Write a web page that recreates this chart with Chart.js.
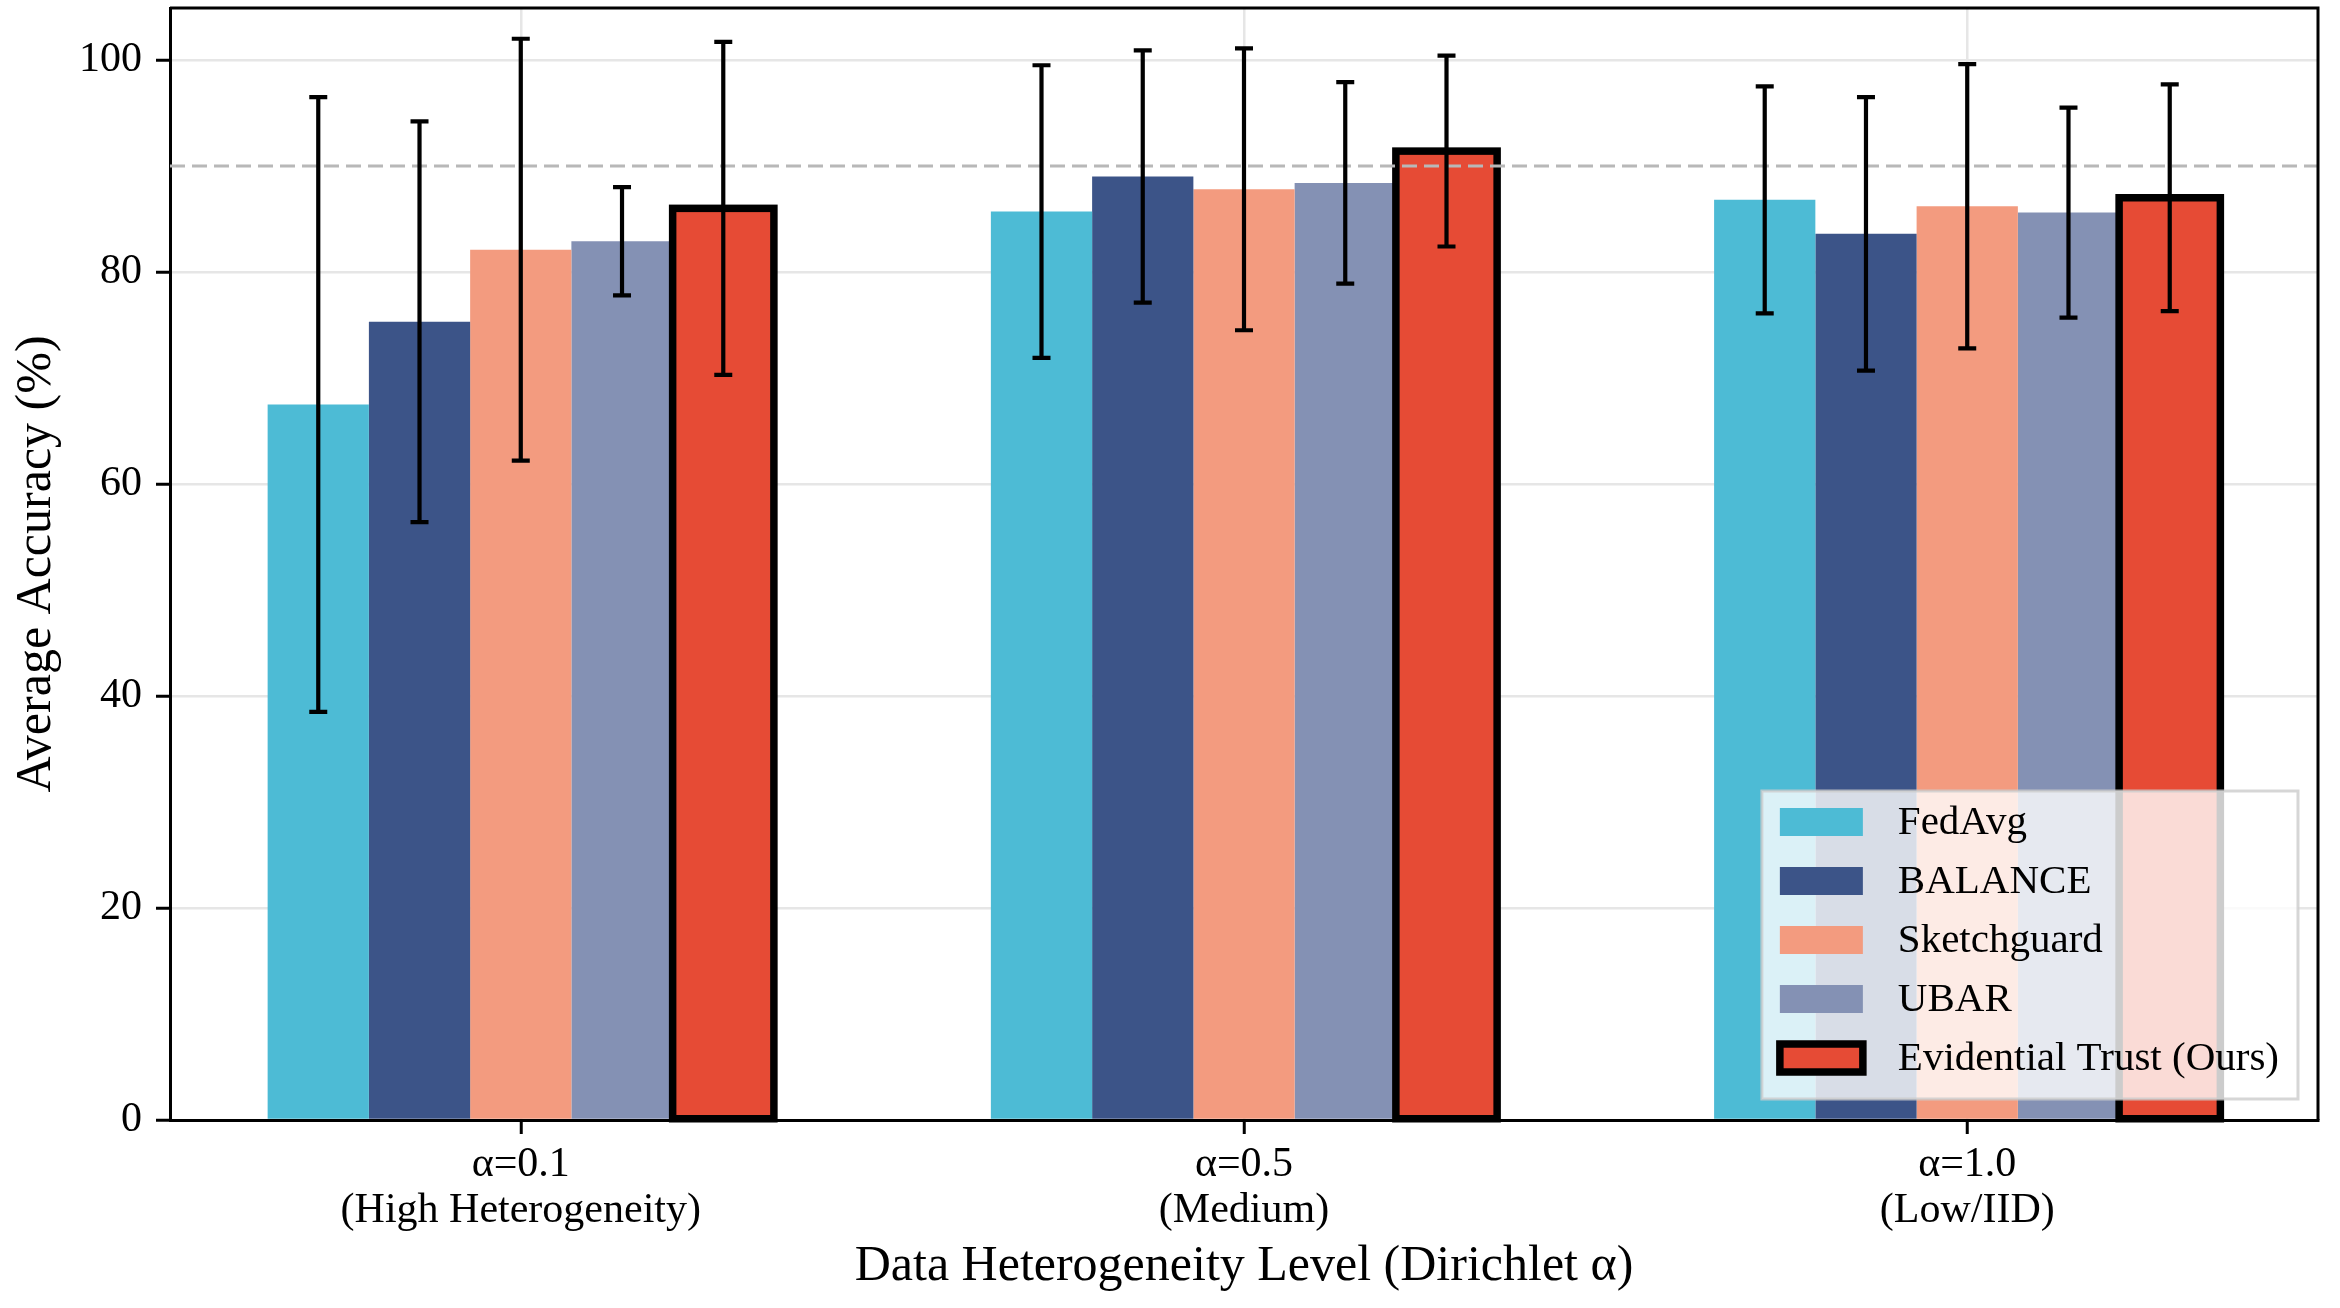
<!DOCTYPE html>
<html>
<head>
<meta charset="utf-8">
<script src="https://cdn.jsdelivr.net/npm/chart.js@4.4.1/dist/chart.umd.min.js"></script>
<style>
    html, body { margin: 0; padding: 0; background: #fff; }
    #wrap { width: 2340px; height: 1308px; }
</style>
</head>
<body>
<div id="wrap"><canvas id="graficaBarras" width="2340" height="1308"></canvas></div>
<script>
// Categorías del eje x (dos líneas por etiqueta)
const categorias = [
    ['α=0.1', '(High Heterogeneity)'],
    ['α=0.5', '(Medium)'],
    ['α=1.0', '(Low/IID)']
];
const metodos = ['FedAvg', 'BALANCE', 'Sketchguard', 'UBAR', 'Evidential Trust (Ours)'];
const colores = ['#4DBBD5', '#3C5488', '#F39B7F', '#8491B4', '#E64B35'];

// Precisión media (%) y desviación por método
const fedavg      = [67.5, 85.7, 86.8];
const balance     = [75.3, 89.0, 83.6];
const sketchguard = [82.1, 87.8, 86.2];
const ubar        = [82.9, 88.4, 85.6];
const evidential  = [86.0, 91.4, 87.0];

const errFedavg      = [29.0, 13.8, 10.7];
const errBalance     = [18.9, 11.9, 12.9];
const errSketchguard = [19.9, 13.3, 13.4];
const errUbar        = [5.1, 9.5, 9.9];
const errEvidential  = [15.7, 9.0, 10.7];

const yTicks = [0, 20, 40, 60, 80, 100];
const lineaReferencia = 90;

const valores = [fedavg, balance, sketchguard, ubar, evidential];
const errores = [errFedavg, errBalance, errSketchguard, errUbar, errEvidential];
const destacado = 4; // índice del método propio (borde negro)

const fuente = "'Liberation Serif', 'Times New Roman', serif";
Chart.defaults.font.family = fuente;
Chart.defaults.color = '#000';

document.addEventListener('DOMContentLoaded', function () {
    const ctx = document.getElementById('graficaBarras').getContext('2d');

    const datasets = metodos.map((nombre, k) => ({
        label: nombre,
        data: valores[k].map((v, i) => ({ x: i, y: v })),
        backgroundColor: colores[k],
        borderWidth: 0,
        categoryPercentage: 0.70,
        barPercentage: 1.0
    }));

    // Borde centrado, línea discontinua, barras de error, marco y leyenda
    const extras = {
        id: 'extras',
        afterDatasetsDraw(chart) {
            const c = chart.ctx;
            const area = chart.chartArea;
            const y = chart.scales.y;

            // borde negro del método propio (centrado sobre el contorno)
            c.save();
            c.strokeStyle = '#000';
            c.lineWidth = 7.5;
            c.lineJoin = 'miter';
            chart.getDatasetMeta(destacado).data.forEach(barra => {
                const p = barra.getProps(['x', 'y', 'base', 'width'], true);
                c.strokeRect(p.x - p.width / 2, p.y, p.width, p.base - p.y);
            });
            c.restore();

            // línea de referencia en 90
            c.save();
            c.setLineDash([15, 7]);
            c.strokeStyle = '#b8b8b8';
            c.lineWidth = 3;
            c.beginPath();
            c.moveTo(area.left, y.getPixelForValue(lineaReferencia));
            c.lineTo(area.right, y.getPixelForValue(lineaReferencia));
            c.stroke();
            c.restore();

            // barras de error
            c.save();
            c.strokeStyle = '#000';
            c.lineWidth = 4.2;
            errores.forEach((errs, k) => {
                const meta = chart.getDatasetMeta(k);
                meta.data.forEach((barra, i) => {
                    const arriba = y.getPixelForValue(valores[k][i] + errs[i]);
                    const abajo = y.getPixelForValue(valores[k][i] - errs[i]);
                    c.beginPath();
                    c.moveTo(barra.x, arriba);
                    c.lineTo(barra.x, abajo);
                    c.moveTo(barra.x - 9, arriba);
                    c.lineTo(barra.x + 9, arriba);
                    c.moveTo(barra.x - 9, abajo);
                    c.lineTo(barra.x + 9, abajo);
                    c.stroke();
                });
            });
            c.restore();
        },
        afterDraw(chart) {
            const c = chart.ctx;
            const area = chart.chartArea;

            // marco superior y derecho
            c.save();
            c.strokeStyle = '#000';
            c.lineWidth = 3;
            c.beginPath();
            c.moveTo(area.left, area.top);
            c.lineTo(area.right, area.top);
            c.lineTo(area.right, area.bottom);
            c.stroke();
            c.restore();

            // leyenda abajo a la derecha
            c.save();
            c.font = '41px ' + fuente;
            const anchoTexto = Math.max(...metodos.map(m => c.measureText(m).width));
            const muestraW = 83, muestraH = 28, fila = 59;
            const anchoCaja = 18 + muestraW + 35 + anchoTexto + 19;
            const altoCaja = 31 + fila * (metodos.length - 1) + 41;
            const x0 = area.right - 20 - anchoCaja;
            const y0 = area.bottom - 21 - altoCaja;

            c.fillStyle = 'rgba(255, 255, 255, 0.8)';
            c.fillRect(x0, y0, anchoCaja, altoCaja);
            c.strokeStyle = 'rgba(204, 204, 204, 0.8)';
            c.lineWidth = 3;
            c.strokeRect(x0, y0, anchoCaja, altoCaja);

            metodos.forEach((m, k) => {
                const cy = y0 + 31 + k * fila;
                const mx = x0 + 18;
                c.fillStyle = colores[k];
                c.fillRect(mx, cy - muestraH / 2, muestraW, muestraH);
                if (k === destacado) {
                    c.strokeStyle = '#000';
                    c.lineWidth = 7.5;
                    c.strokeRect(mx, cy - muestraH / 2, muestraW, muestraH);
                }
                c.fillStyle = '#000';
                c.textBaseline = 'middle';
                c.textAlign = 'left';
                c.fillText(m, mx + muestraW + 35, cy + 1);
            });
            c.restore();
        }
    };

    new Chart(ctx, {
        type: 'bar',
        data: { datasets: datasets },
        options: {
            responsive: false,
            animation: false,
            devicePixelRatio: 1,
            layout: { padding: { top: 8, right: 22, left: 0, bottom: 0 } },
            plugins: {
                legend: { display: false },
                tooltip: { enabled: false }
            },
            scales: {
                x: {
                    type: 'linear',
                    min: -0.485,
                    max: 2.485,
                    offset: false,
                    afterBuildTicks: s => { s.ticks = categorias.map((c, i) => ({ value: i })); },
                    afterFit: s => { s.height = 188; s.paddingLeft = 0; s.paddingRight = 0; },
                    ticks: {
                        callback: v => categorias[v],
                        font: { size: 42, lineHeight: 1.1 },
                        color: '#000',
                        padding: 8,
                        maxRotation: 0,
                        autoSkip: false
                    },
                    grid: { offset: false, color: '#e6e6e6', lineWidth: 2.5, tickColor: '#000', tickLength: 14, tickWidth: 3 },
                    border: { color: '#000', width: 3 },
                    title: {
                        display: true,
                        text: 'Data Heterogeneity Level (Dirichlet α)',
                        font: { size: 50 },
                        color: '#000',
                        padding: { top: 0, bottom: 11 }
                    }
                },
                y: {
                    min: 0,
                    max: 104.9,
                    afterBuildTicks: s => { s.ticks = yTicks.map(v => ({ value: v })); },
                    afterFit: s => { s.width = 170; s.paddingTop = 0; s.paddingBottom = 0; },
                    ticks: { font: { size: 42 }, color: '#000', padding: 14 },
                    grid: { color: '#e6e6e6', lineWidth: 2.5, tickColor: '#000', tickLength: 14, tickWidth: 3 },
                    border: { color: '#000', width: 3 },
                    title: {
                        display: true,
                        text: 'Average Accuracy (%)',
                        font: { size: 50 },
                        color: '#000',
                        padding: { top: 7, bottom: 0 }
                    }
                }
            }
        },
        plugins: [extras]
    });
});
</script>
</body>
</html>
